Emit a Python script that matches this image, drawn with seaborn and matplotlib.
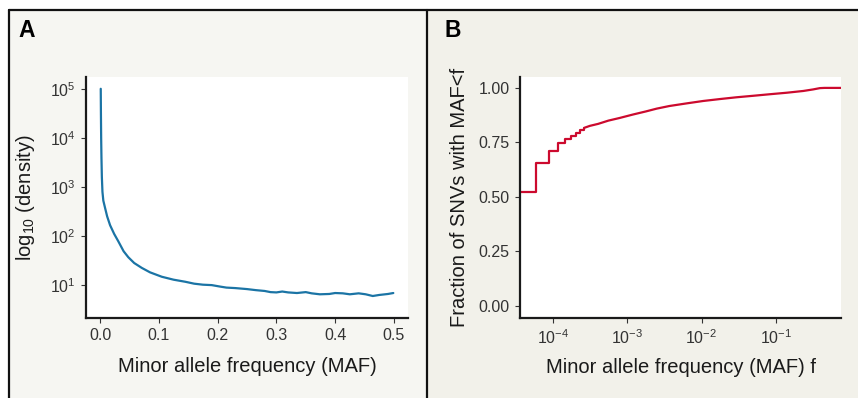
import matplotlib
matplotlib.use('agg')
import matplotlib.pyplot as plt
from matplotlib.lines import Line2D
from matplotlib.patches import Rectangle
import numpy as np
import pandas as pd
import seaborn as sns

# panel A: density of minor allele frequency
maf_density = [0.0011, 0.0014, 0.0018, 0.0023, 0.0030, 0.0040, 0.0055, 0.0085, 0.012, 0.017,
               0.024, 0.031, 0.040, 0.048, 0.058, 0.071, 0.085, 0.105, 0.125, 0.145,
               0.160, 0.175, 0.190, 0.205, 0.215, 0.230, 0.250, 0.265, 0.280, 0.290,
               0.300, 0.310, 0.320, 0.335, 0.350, 0.360, 0.374, 0.390, 0.400, 0.413,
               0.425, 0.440, 0.452, 0.464, 0.475, 0.490, 0.499]
density = [1.0e5, 3.16e4, 1.0e4, 3.98e3, 1.585e3, 794, 525, 372, 251, 166,
           110, 78, 49, 37, 28.2, 22.4, 18.2, 14.8, 12.9, 11.7,
           10.7, 10.2, 10.0, 9.3, 8.9, 8.7, 8.3, 7.9, 7.6, 7.2,
           7.1, 7.4, 7.1, 6.9, 7.2, 6.8, 6.5, 6.6, 6.9, 6.8,
           6.5, 6.8, 6.5, 6.0, 6.3, 6.6, 6.9]

# panel B: cumulative fraction of SNVs (discrete low-MAF steps, then smooth part)
maf_steps = [2.95e-5, 5.9e-5, 8.85e-5, 1.18e-4, 1.475e-4, 1.77e-4, 2.065e-4, 2.36e-4, 2.655e-4]
frac_steps = [0.522, 0.655, 0.711, 0.746, 0.766, 0.781, 0.795, 0.807, 0.817]
maf_smooth = [2.655e-4, 3.16e-4, 4.07e-4, 5.6e-4, 7.9e-4, 1.2e-3, 1.78e-3, 2.5e-3, 3.7e-3, 6.3e-3,
              1.05e-2, 1.78e-2, 2.95e-2, 5.0e-2, 8.3e-2, 0.141, 0.234, 0.316, 0.39, 0.45, 0.5, 0.75]
frac_smooth = [0.817, 0.826, 0.835, 0.850, 0.862, 0.878, 0.892, 0.905, 0.917, 0.929,
               0.940, 0.949, 0.957, 0.964, 0.971, 0.978, 0.986, 0.993, 0.999, 1.0, 1.0, 1.0]

xticks_b = [1e-4, 1e-3, 1e-2, 1e-1]
xtick_labels_b = ['$10^{-4}$', '$10^{-3}$', '$10^{-2}$', '$10^{-1}$']
yticks_a = [1e1, 1e2, 1e3, 1e4, 1e5]
ytick_labels_a = ['$10^{1}$', '$10^{2}$', '$10^{3}$', '$10^{4}$', '$10^{5}$']
yticks_b = [0.0, 0.25, 0.5, 0.75, 1.0]

sns.set_theme(style='white')
plt.rcParams['font.family'] = ['Liberation Sans', 'DejaVu Sans']
plt.rcParams['mathtext.fontset'] = 'custom'
plt.rcParams['mathtext.rm'] = 'Liberation Sans'
plt.rcParams['mathtext.it'] = 'Liberation Sans'

W, H = 858, 398
fig = plt.figure(figsize=(W / 100, H / 100), dpi=100, facecolor='white')

# panel backgrounds and frame, kept below the axes
fig.patches.append(Rectangle((9 / W, 0), (427 - 9) / W, 388 / H, transform=fig.transFigure,
                             facecolor='#f6f6f2', edgecolor='none', zorder=-3))
fig.patches.append(Rectangle((427 / W, 0), (W - 427) / W, 388 / H, transform=fig.transFigure,
                             facecolor='#f2f1ea', edgecolor='none', zorder=-3))
for xs, ys in [([9 / W, 1], [388 / H, 388 / H]), ([9 / W, 9 / W], [0, 388 / H]),
               ([427 / W, 427 / W], [0, 388 / H])]:
    fig.lines.append(Line2D(xs, ys, transform=fig.transFigure, color='#111111', lw=1.6, zorder=-2))

fig.text(18 / W, 1 - 37 / H, 'A', fontsize=16.5, fontweight='bold', color='black')
fig.text(444 / W, 1 - 37 / H, 'B', fontsize=16.5, fontweight='bold', color='black')

bottom, top = 1 - 318 / H, 1 - 77 / H
ax_a = fig.add_axes([86 / W, bottom, (408 - 86) / W, top - bottom])
ax_b = fig.add_axes([520 / W, bottom, (841 - 520) / W, top - bottom])

df_a = pd.DataFrame({'maf': maf_density, 'density': density})
sns.lineplot(data=df_a, x='maf', y='density', ax=ax_a, color='#1b74a5', lw=1.6)
ax_a.set_yscale('log')
ax_a.set_xlim(-0.024, 0.524)
ax_a.set_ylim(10 ** 0.33, 10 ** 5.24)
ax_a.set_yticks(yticks_a)
ax_a.set_yticklabels(ytick_labels_a)
ax_a.set_xticks([0.0, 0.1, 0.2, 0.3, 0.4, 0.5])
ax_a.set_xticklabels(['0.0', '0.1', '0.2', '0.3', '0.4', '0.5'])
ax_a.minorticks_off()
ax_a.set_xlabel('Minor allele frequency (MAF)', fontsize=14.5, labelpad=10)
ax_a.set_ylabel('log$_{10}$ (density)', fontsize=14.5, labelpad=9)

df_steps = pd.DataFrame({'maf': maf_steps, 'frac': frac_steps})
df_smooth = pd.DataFrame({'maf': maf_smooth, 'frac': frac_smooth})
sns.lineplot(data=df_steps, x='maf', y='frac', ax=ax_b, color='#cc0a2e', lw=1.6,
             drawstyle='steps-post')
sns.lineplot(data=df_smooth, x='maf', y='frac', ax=ax_b, color='#cc0a2e', lw=1.6)
ax_b.set_xscale('log')
ax_b.set_xlim(10 ** -4.44, 0.75)
ax_b.set_ylim(-0.055, 1.05)
ax_b.set_xticks(xticks_b)
ax_b.set_xticklabels(xtick_labels_b)
ax_b.set_yticks(yticks_b)
ax_b.set_yticklabels(['0.00', '0.25', '0.50', '0.75', '1.00'])
ax_b.minorticks_off()
ax_b.set_xlabel('Minor allele frequency (MAF) f', fontsize=14.5, labelpad=8)
ax_b.set_ylabel('Fraction of SNVs with MAF<f', fontsize=14.5, labelpad=7)

for ax in (ax_a, ax_b):
    ax.set_facecolor('white')
    for side in ('top', 'right'):
        ax.spines[side].set_visible(False)
    for side in ('left', 'bottom'):
        ax.spines[side].set_color('#1a1a1a')
        ax.spines[side].set_linewidth(1.6)
    ax.tick_params(axis='both', which='major', direction='out', length=3.5, width=0.8,
                   color='#333333', labelcolor='#333333', labelsize=11.5, pad=4,
                   bottom=True, left=True)
    ax.xaxis.label.set_color('#1a1a1a')
    ax.yaxis.label.set_color('#1a1a1a')

fig.savefig('out.png', dpi=100)
